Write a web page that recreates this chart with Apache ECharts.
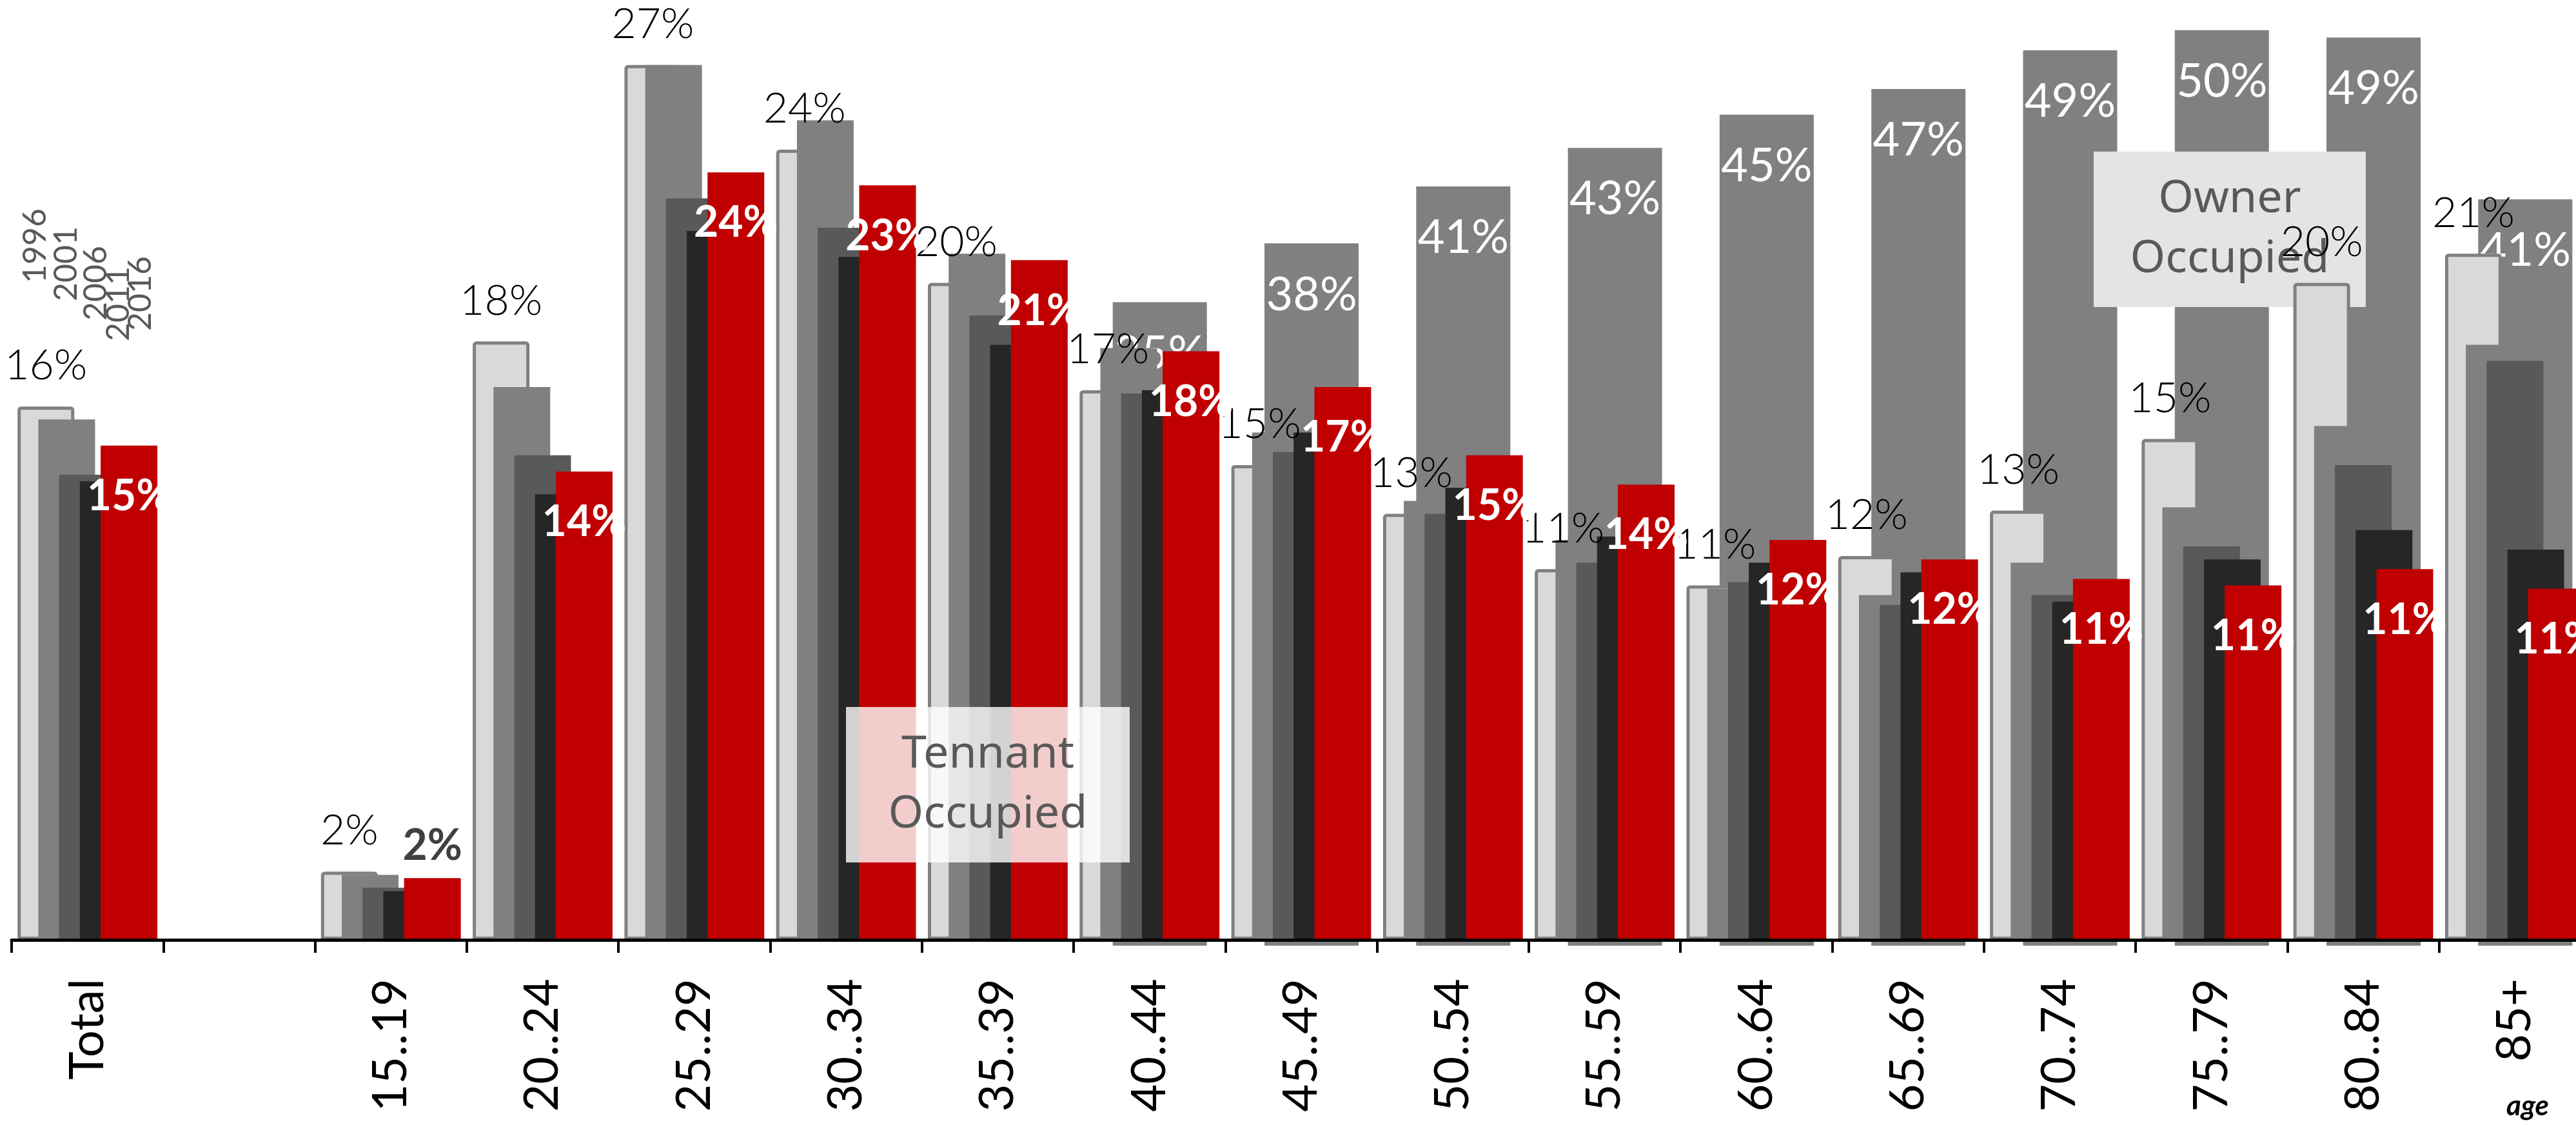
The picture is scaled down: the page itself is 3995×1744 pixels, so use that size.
<!DOCTYPE html>
<html>
<head>
<meta charset="utf-8">
<script src="https://cdn.jsdelivr.net/npm/echarts@6/dist/echarts.min.js"></script>
<style>
  html, body { margin: 0; padding: 0; background: #fff; }
  #chart { width: 3995px; height: 1744px; }
</style>
</head>
<body>
<div id="chart"></div>
<script>
// categories along the axis (second one is an empty spacer)
const categories = ['Total', '', '15..19', '20..24', '25..29', '30..34', '35..39', '40..44', '45..49',
    '50..54', '55..59', '60..64', '65..69', '70..74', '75..79', '80..84', '85+'];
const years = ['1996', '2001', '2006', '2011', '2016'];

// tenant occupied share, %
const tenant1996 = [16.4, null, 2.1, 18.4, 26.9, 24.3, 20.2, 16.9, 14.6, 13.1, 11.4, 10.9, 11.8, 13.2, 15.4, 20.2, 21.1];
const tenant2001 = [16.0, null, 2.0, 17.0, 26.9, 25.2, 21.1, 18.2, 15.6, 13.5, 12.3, 10.8, 10.6, 11.6, 13.3, 15.8, 18.3];
const tenant2006 = [14.3, null, 1.6, 14.9, 22.8, 21.9, 19.2, 16.8, 15.0, 13.1, 11.6, 11.0, 10.3, 10.6, 12.1, 14.6, 17.8];
const tenant2011 = [14.1, null, 1.5, 13.7, 21.8, 21.0, 18.3, 16.9, 15.6, 13.9, 12.4, 11.6, 11.3, 10.4, 11.7, 12.6, 12.0];
const tenant2016 = [15.2, null, 1.9, 14.4, 23.6, 23.2, 20.9, 18.1, 17.0, 14.9, 14.0, 12.3, 11.7, 11.1, 10.9, 11.4, 10.8];

// owner occupied share, % (background bars, own scale)
const owner = [null, null, null, null, null, null, null, 35.0, 38.2, 41.3, 43.4, 45.2, 46.6, 48.7, 49.8, 49.4, 40.6];

const tenantColors = ['#d9d9d9', '#808080', '#595959', '#262626', '#c00000'];
const pct = p => (p.value == null ? '' : Math.round(p.value) + '%');

const chart = echarts.init(document.getElementById('chart'), null, { renderer: 'canvas' });

function tenantSeries(idx, values) {
    const s = {
        type: 'bar',
        name: years[idx],
        xAxisIndex: 0,
        yAxisIndex: 0,
        z: 3,
        barWidth: 88,
        barGap: '-63.4%',
        data: values,
        itemStyle: { color: tenantColors[idx] },
        label: { show: false }
    };
    if (idx === 0) {
        // 1996: light bar with grey outline, value on top
        s.itemStyle = { color: tenantColors[0], borderColor: '#808080', borderWidth: 5, borderRadius: [3, 3, 0, 0] };
        s.label = {
            show: true, position: 'top', distance: 30, formatter: pct,
            color: '#000', fontFamily: 'Lato', fontWeight: 300, fontSize: 66
        };
    }
    if (idx === 4) {
        // 2016: white label inside the top, except where the bar is too short
        s.data = values.map((v, i) => categories[i] === '15..19'
            ? { value: v, label: { position: 'top', distance: 16, color: '#404040' } }
            : v);
        s.label = {
            show: true, position: 'insideTop', distance: 46, formatter: pct,
            color: '#fff', fontFamily: 'Lato', fontWeight: 'bold', fontSize: 66
        };
    }
    return s;
}

const yearPos = [[55, 439], [103, 467], [149, 497], [184, 529], [218, 513]];

const option = {
    animation: false,
    backgroundColor: '#fff',
    grid: [
        { left: 18, top: 0, width: 4000, height: 1457, outerBoundsMode: 'none' },
        { left: 34, top: 0, width: 4000, height: 1466, outerBoundsMode: 'none' }
    ],
    xAxis: [
        {
            gridIndex: 0, type: 'category', data: categories, z: 6,
            axisLine: { show: true, lineStyle: { color: '#000', width: 5 } },
            axisTick: { show: true, length: 20, lineStyle: { color: '#000', width: 4 } },
            axisLabel: {
                interval: 0, rotate: 90, margin: 60, color: '#000',
                fontFamily: 'Lato', fontWeight: 'normal', fontSize: 74
            }
        },
        { gridIndex: 1, type: 'category', data: categories, show: false }
    ],
    yAxis: [
        { gridIndex: 0, type: 'value', min: 0, max: 28.9, show: false, splitLine: { show: false } },
        { gridIndex: 1, type: 'value', min: 0, max: 51.44, show: false, splitLine: { show: false } }
    ],
    series: [
        {
            type: 'bar',
            name: 'Owner Occupied',
            xAxisIndex: 1,
            yAxisIndex: 1,
            z: 1,
            barWidth: 146,
            data: owner,
            itemStyle: { color: '#808080' },
            label: {
                show: true, position: 'insideTop', distance: 44, formatter: pct,
                color: '#fff', fontFamily: 'Lato', fontWeight: 'normal', fontSize: 72
            }
        },
        tenantSeries(0, tenant1996),
        tenantSeries(1, tenant2001),
        tenantSeries(2, tenant2006),
        tenantSeries(3, tenant2011),
        tenantSeries(4, tenant2016)
    ],
    graphic: {
        elements: [
            // year legend, written upright above the Total bars
            ...years.map((y, i) => ({
                type: 'text', x: yearPos[i][0], y: yearPos[i][1], rotation: Math.PI / 2, z: 7,
                style: { text: y, font: '50px Lato', fill: '#595959', align: 'left', verticalAlign: 'middle' }
            })),
            {
                type: 'rect', z: 2,
                shape: { x: 3247, y: 235, width: 422, height: 241 },
                style: { fill: '#e4e4e4' }
            },
            {
                type: 'text', x: 3458, y: 356, z: 2,
                style: {
                    text: 'Owner\nOccupied', font: '70px "Noto Sans"', lineHeight: 93,
                    fill: '#595959', align: 'center', verticalAlign: 'middle'
                }
            },
            {
                type: 'rect', z: 8,
                shape: { x: 1312, y: 1096, width: 440, height: 241 },
                style: { fill: 'rgba(255,255,255,0.8)' }
            },
            {
                type: 'text', x: 1532, y: 1217, z: 9,
                style: {
                    text: 'Tennant\nOccupied', font: '70px "Noto Sans"', lineHeight: 93,
                    fill: '#595959', align: 'center', verticalAlign: 'middle'
                }
            },
            {
                type: 'text', x: 3920, y: 1715, z: 9,
                style: { text: 'age', font: 'italic bold 44px Lato', fill: '#000', align: 'center', verticalAlign: 'middle' }
            }
        ]
    }
};

chart.setOption(option);
</script>
</body>
</html>
